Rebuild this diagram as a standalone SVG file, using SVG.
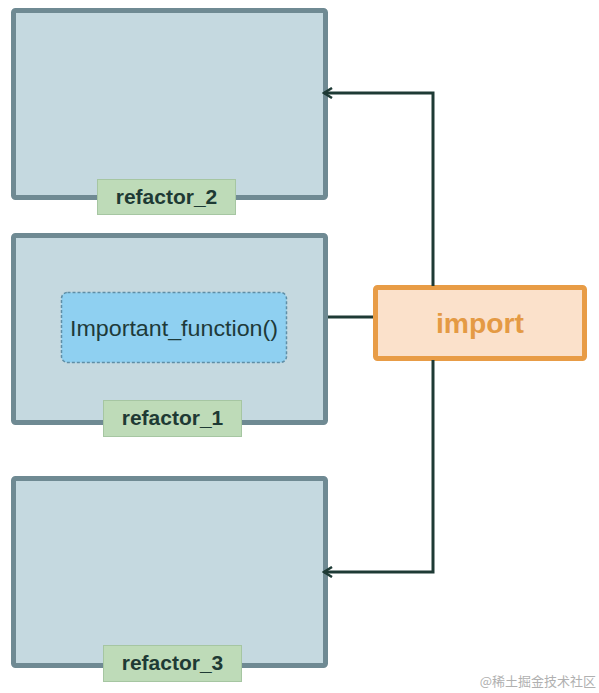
<svg xmlns="http://www.w3.org/2000/svg" width="599" height="693" viewBox="0 0 599 693">
<style>
.box{fill:#c5d9e0;stroke:#6f8a93;stroke-width:5}
.tag{fill:#bedbb8;stroke:#a6c6a2;stroke-width:1}
.tagt{font-family:"Liberation Sans",Arial,sans-serif;font-weight:bold;font-size:21px;fill:#1e3a34;text-anchor:middle}
.conn{fill:none;stroke:#1e3a35;stroke-width:3}
</style>
<defs>
<marker id="arr" viewBox="0 0 12 12" refX="10" refY="6" markerWidth="12" markerHeight="12" markerUnits="userSpaceOnUse" orient="auto">
<path d="M2,1 L10,6 L2,11" fill="none" stroke="#1e3a35" stroke-width="2.5"/>
</marker>
</defs>
<rect width="599" height="693" fill="#ffffff"/>
<g id="refactor_2">
<rect class="box" x="13.5" y="10.5" width="312" height="187" rx="2"/>
<rect class="tag" x="97.5" y="179.5" width="138" height="35"/>
<text class="tagt" x="166.5" y="204">refactor_2</text>
</g>
<g id="refactor_1">
<rect class="box" x="13.5" y="235.5" width="312" height="187" rx="2"/>
<rect class="tag" x="103.5" y="400.5" width="138" height="36"/>
<text class="tagt" x="172.5" y="425">refactor_1</text>
</g>
<g id="important_function">
<rect x="61.5" y="292.5" width="225" height="70" rx="6" fill="#8fd0f1" stroke="#5f8ea6" stroke-width="1.5" stroke-dasharray="3,2"/>
<text x="174" y="336" font-family="'Liberation Sans',Arial,sans-serif" font-size="22" fill="#1e3a3a" text-anchor="middle" textLength="208" lengthAdjust="spacingAndGlyphs">Important_function()</text>
</g>
<g id="refactor_3">
<rect class="box" x="13.5" y="478.5" width="312" height="187" rx="2"/>
<rect class="tag" x="103.5" y="645.5" width="138" height="36"/>
<text class="tagt" x="172.5" y="670">refactor_3</text>
</g>
<g id="import">
<rect x="375.5" y="287.5" width="209" height="71" rx="2" fill="#fbe1cb" stroke="#e89c46" stroke-width="5"/>
<text x="480" y="333" font-family="'Liberation Sans',Arial,sans-serif" font-weight="bold" font-size="27" fill="#e49a44" text-anchor="middle" textLength="88" lengthAdjust="spacingAndGlyphs">import</text>
</g>
<g id="connectors">
<path class="conn" d="M433,286 L433,93 L324,93" marker-end="url(#arr)"/>
<path class="conn" d="M433,360 L433,572 L324,572" marker-end="url(#arr)"/>
<path class="conn" d="M328,317 L373,317"/>
</g>
<text x="596" y="686" font-family="'Noto Sans CJK SC',sans-serif" font-size="13" fill="#b0b0b0" text-anchor="end">@稀土掘金技术社区</text>
</svg>
